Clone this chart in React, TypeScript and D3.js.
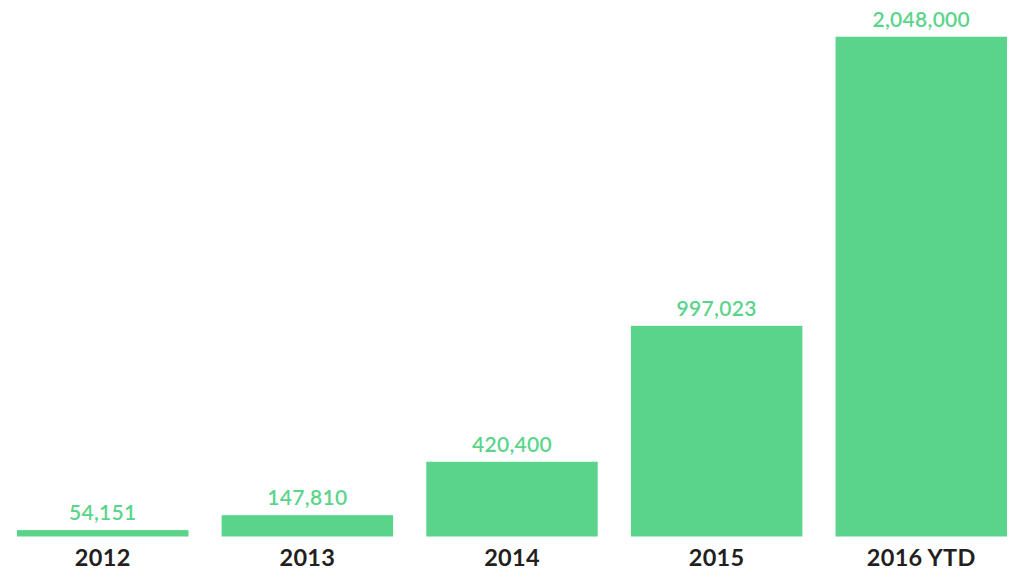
import React from "react";
import * as d3 from "d3";

const categories = ["2012", "2013", "2014", "2015", "2016 YTD"];
const values = [54151, 147810, 420400, 997023, 2048000];

const W = 1024;
const H = 578;
const baseline = 536.5;
const topY = 36.7;
const green = "#5ad48a";

export default function App() {
  const x = d3
    .scaleBand<string>()
    .domain(categories)
    .range([17, 1007])
    .paddingInner(0.162)
    .paddingOuter(0);
  const y = d3
    .scalePow()
    .exponent(1.2)
    .domain([0, d3.max(values) as number])
    .range([baseline, topY]);
  const fmt = d3.format(",");
  return (
    <svg
      width={W}
      height={H}
      style={{ position: "absolute", left: 0, top: 0, background: "#fff" }}
    >
      {categories.map((c, i) => {
        const bx = x(c) as number;
        const bw = x.bandwidth();
        const ty = y(values[i]);
        return (
          <g key={c}>
            <rect x={bx} y={ty} width={bw} height={baseline - ty} fill={green} />
            <text
              x={bx + bw / 2}
              y={ty - 10}
              textAnchor="middle"
              fill={green}
              fontFamily="Lato, 'Open Sans', sans-serif"
              fontWeight={600}
              fontSize={21}
              letterSpacing={0.3}
            >
              {fmt(values[i])}
            </text>
            <text
              x={bx + bw / 2}
              y={566}
              textAnchor="middle"
              fill="#231f20"
              fontFamily="Lato, 'Open Sans', sans-serif"
              fontWeight={700}
              fontSize={23.5}
              letterSpacing={0.3}
            >
              {c}
            </text>
          </g>
        );
      })}
    </svg>
  );
}
